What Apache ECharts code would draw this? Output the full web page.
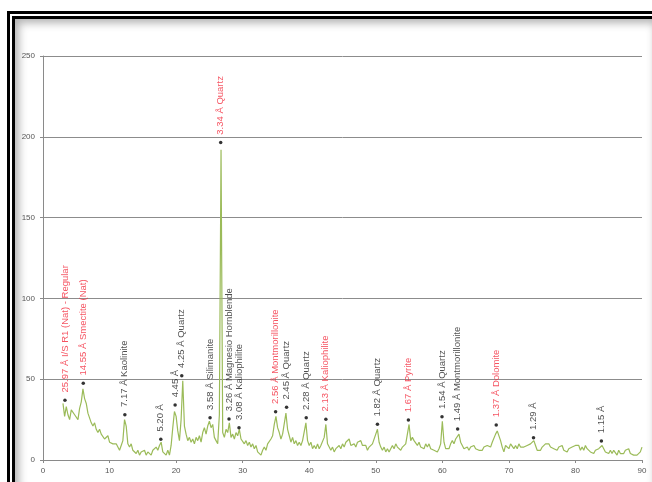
<!DOCTYPE html>
<html>
<head>
<meta charset="utf-8">
<script src="https://cdn.jsdelivr.net/npm/echarts@6/dist/echarts.min.js"></script>
<style>
  html, body { margin: 0; padding: 0; background: #fff; }
  #frame {
    position: absolute; left: 7px; top: 11px;
    width: 638px; height: 470px;
    border: 8px double #000;
    box-shadow: inset 3px 3px 9px 1px rgba(0,0,0,0.3);
  }
  #chart { position: absolute; left: 0; top: 0; width: 652px; height: 482px; }
</style>
</head>
<body>
<div id="frame"></div>
<div id="chart"></div>
<script>
// Diffractogram: 2θ scan from 3° to 90° in 0.25° steps, counts per step.
const scanStart = 3.0;
const scanStep = 0.25;
const counts = [
  /* 3 */  35, 27, 33, 28,
  /* 4 */  25, 31, 32, 28,
  /* 5 */  29, 25, 32, 36,
  /* 6 */  44, 38, 35, 29,
  /* 7 */  28, 23, 21, 23,
  /* 8 */  19, 17, 19, 16,
  /* 9 */  16, 13, 13, 15,
  /* 10 */ 11, 12, 10, 11,
  /* 11 */ 10, 9, 6, 9,
  /* 12 */ 12, 25, 21, 10,
  /* 13 */ 8, 10, 6, 7,
  /* 14 */ 4, 6, 3, 5,
  /* 15 */ 4, 6, 3, 5,
  /* 16 */ 4, 3, 6, 5,
  /* 17 */ 8, 6, 9, 11,
  /* 18 */ 5, 6, 3, 6,
  /* 19 */ 3, 9, 20, 30,
  /* 20 */ 27, 18, 12, 25,
  /* 21 */ 49, 21, 16, 12,
  /* 22 */ 14, 11, 13, 10,
  /* 23 */ 14, 12, 15, 11,
  /* 24 */ 17, 20, 16, 21,
  /* 25 */ 24, 20, 22, 14,
  /* 26 */ 12, 10, 28, 192,
  /* 27 */ 17, 14, 19, 17,
  /* 28 */ 23, 14, 16, 13,
  /* 29 */ 17, 15, 19, 13,
  /* 30 */ 14, 10, 12, 9,
  /* 31 */ 11, 8, 10, 7,
  /* 32 */ 9, 5, 6, 3,
  /* 33 */ 6, 8, 6, 10,
  /* 34 */ 10, 13, 15, 22,
  /* 35 */ 27, 20, 17, 13,
  /* 36 */ 16, 17, 29, 19,
  /* 37 */ 15, 11, 14, 10,
  /* 38 */ 12, 9, 11, 9,
  /* 39 */ 12, 11, 23, 12,
  /* 40 */ 9, 11, 7, 9,
  /* 41 */ 7, 10, 7, 9,
  /* 42 */ 8, 14, 22, 10,
  /* 43 */ 8, 6, 8, 5,
  /* 44 */ 7, 6, 9, 7,
  /* 45 */ 10, 8, 11, 12,
  /* 46 */ 13, 9, 8, 10,
  /* 47 */ 8, 11, 10, 12,
  /* 48 */ 9, 8, 9, 6,
  /* 49 */ 8, 7, 10, 11,
  /* 50 */ 16, 19, 11, 8,
  /* 51 */ 6, 8, 5, 7,
  /* 52 */ 5, 7, 9, 7,
  /* 53 */ 10, 8, 9, 6,
  /* 54 */ 8, 7, 10, 16,
  /* 55 */ 22, 12, 14, 12,
  /* 56 */ 11, 9, 11, 8,
  /* 57 */ 9, 7, 10, 8,
  /* 58 */ 10, 7, 8, 6,
  /* 59 */ 7, 5, 7, 10,
  /* 60 */ 24, 11, 7, 8,
  /* 61 */ 7, 10, 12, 10,
  /* 62 */ 13, 12, 16, 11,
  /* 63 */ 9, 7, 6, 8,
  /* 64 */ 6, 8, 7, 9,
  /* 65 */ 7, 8, 6, 7,
  /* 66 */ 6, 8, 7, 9,
  /* 67 */ 10, 8, 11, 12,
  /* 68 */ 16, 18, 19, 12,
  /* 69 */ 8, 5, 9, 10,
  /* 70 */ 7, 10, 9, 7,
  /* 71 */ 9, 7, 10, 8,
  /* 72 */ 7, 8, 7, 9,
  /* 73 */ 8, 10, 9, 12,
  /* 74 */ 9, 6, 7, 6,
  /* 75 */ 8, 7, 10, 9,
  /* 76 */ 10, 8, 9, 7,
  /* 77 */ 8, 6, 8, 7,
  /* 78 */ 9, 6, 7, 5,
  /* 79 */ 7, 6, 8, 7,
  /* 80 */ 9, 8, 9, 6,
  /* 81 */ 8, 6, 9, 7,
  /* 82 */ 8, 5, 6, 4,
  /* 83 */ 6, 5, 7, 8,
  /* 84 */ 9, 7, 5, 6,
  /* 85 */ 4, 6, 4, 6,
  /* 86 */ 5, 3, 6, 4,
  /* 87 */ 5, 4, 6, 5,
  /* 88 */ 7, 4, 5, 3,
  /* 89 */ 4, 3, 4, 5,
  /* 90 */ 8
];

// Identified reflections: position (2θ), marker height, d-spacing / phase text
const peakAngles  = [3.3, 6.05, 12.3, 17.7, 19.85, 20.85, 25.1, 26.7, 27.95, 29.45, 34.95,
                     36.6, 39.55, 42.5, 50.25, 54.9, 59.95, 62.3, 68.1, 73.7, 83.9];
const peakHeights = [37, 47.5, 28, 12.8, 34, 52.2, 26.2, 196.5, 25.4, 20, 29.9,
                     32.6, 26.2, 25.2, 22.1, 24.8, 26.8, 19.2, 21.7, 13.8, 11.8];
const peakNames = [
  '25.97 Å I/S R1 (Nat) - Regular', '14.55 Å Smectite (Nat)', '7.17 Å Kaolinite',
  '5.20 Å', '4.45 Å', '4.25 Å Quartz', '3.58 Å Silimanite', '3.34 Å Quartz',
  '3.26 Å Magnesio Hornblende', '3.08 Å Kaliophilite', '2.56 Å Montmorillonite',
  '2.45 Å Quartz', '2.28 Å Quartz', '2.13 Å Kaliophilite', '1.82 Å Quartz',
  '1.67 Å Pyrite', '1.54 Å Quartz', '1.49 Å Montmorillonite', '1.37 Å Dolomite',
  '1.29 Å', '1.15 Å'
];
// clay / key phases are highlighted in red
const peakHighlighted = [true, true, false, false, false, false, false, true,
                         false, false, true, false, false, true, false,
                         true, false, false, true, false, false];

const xTicks = { min: 0, max: 90, interval: 10 };
const yTicks = { min: 0, max: 250, interval: 50 };

const linePoints = counts.map((c, i) => [scanStart + i * scanStep, c]);
const peakPoints = peakAngles.map((a, i) => ({
  value: [a, peakHeights[i]],
  label: { color: peakHighlighted[i] ? '#f2283a' : '#1e1e1e' },
  name: peakNames[i]
}));

const chart = echarts.init(document.getElementById('chart'), null, { renderer: 'canvas' });
const axisText = { color: '#555', fontSize: 8, fontFamily: 'Liberation Sans' };
chart.setOption({
  animation: false,
  backgroundColor: 'transparent',
  grid: { left: 43, right: 10, top: 56, bottom: 22, containLabel: false },
  xAxis: {
    type: 'value', min: xTicks.min, max: xTicks.max, interval: xTicks.interval,
    axisLine: { show: true, onZero: false, lineStyle: { color: '#8a8a8a', width: 1 } },
    axisTick: { show: true, length: 3, lineStyle: { color: '#8a8a8a' } },
    axisLabel: Object.assign({ margin: 7 }, axisText),
    splitLine: { show: false }
  },
  yAxis: {
    type: 'value', min: yTicks.min, max: yTicks.max, interval: yTicks.interval,
    axisLine: { show: true, lineStyle: { color: '#8a8a8a', width: 1 } },
    axisTick: { show: true, length: 3, lineStyle: { color: '#8a8a8a' } },
    axisLabel: Object.assign({ margin: 8 }, axisText),
    splitLine: { show: true, lineStyle: { color: '#8c8c8c', width: 1 } }
  },
  series: [
    {
      type: 'line', data: linePoints, showSymbol: false, smooth: false,
      lineStyle: { color: '#9bbb59', width: 1.2 },
      z: 2
    },
    {
      type: 'scatter', data: peakPoints, symbol: 'circle', symbolSize: 3.5,
      itemStyle: { color: '#000' },
      label: {
        show: true, position: 'top', distance: 6, rotate: 90,
        align: 'left', verticalAlign: 'middle',
        fontSize: 9.5, fontFamily: 'Liberation Sans',
        formatter: p => p.name
      },
      z: 3
    }
  ]
});
</script>
</body>
</html>
